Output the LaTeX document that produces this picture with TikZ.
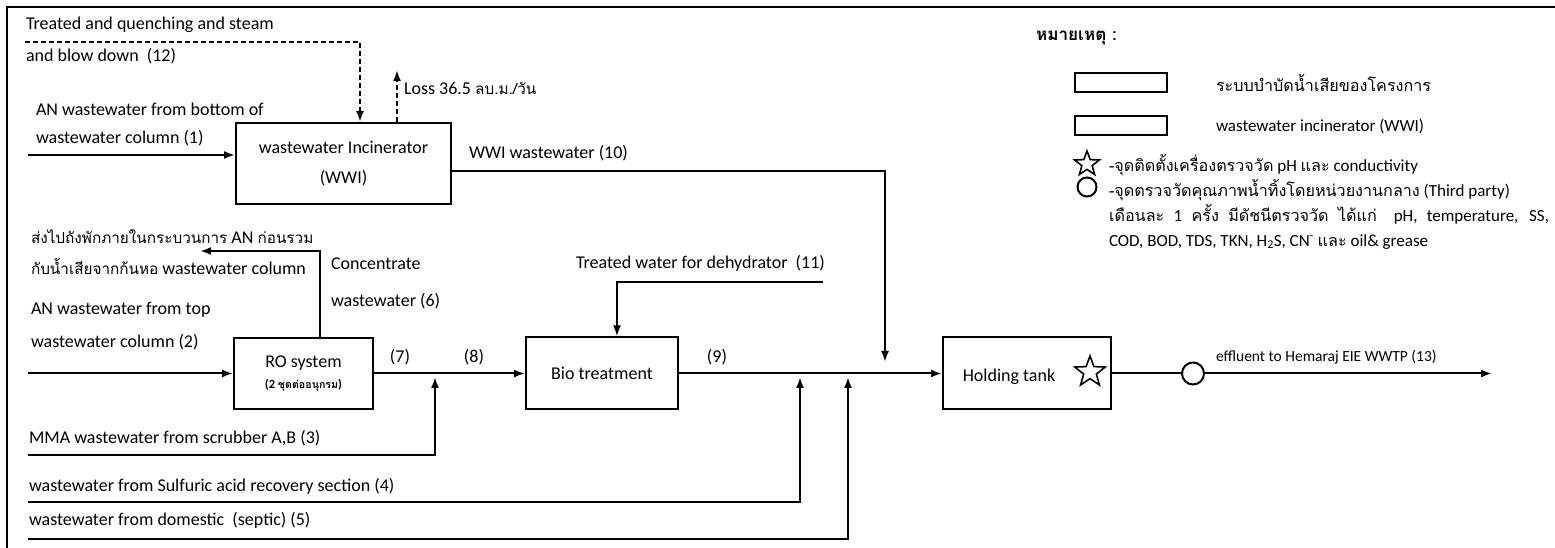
\documentclass[tikz,border=0pt]{standalone}
\usepackage{fontspec}
\setmainfont{Carlito}
\newfontfamily\thaifont[Script=Thai,Scale=0.85]{Loma}
\newfontfamily\thaileg[Script=Thai,Scale=0.95]{Loma}
\newcommand*{\thtxt}[1]{{\thaifont #1}}
\newcommand*{\thleg}[1]{{\thaileg #1}}
\usetikzlibrary{positioning,arrows.meta,shapes.geometric}

\begin{document}
\begin{tikzpicture}[x=1pt, y=1pt, line width=2pt, >={Latex[length=11pt,width=8pt]},
    font=\fontsize{18}{30}\selectfont,
    unitbox/.style={draw, inner sep=0pt, align=center},
    lbl/.style={inner sep=0pt, anchor=west, align=left},
    legfont/.style={font=\fontsize{17}{25}\selectfont},
    dashflow/.style={->, dash pattern=on 5pt off 3pt},
    starmark/.style={star, star points=5, star point ratio=2.4, draw, inner sep=0pt, line width=1.6pt},
    ringmark/.style={circle, draw, inner sep=0pt}]
    \useasboundingbox (0,0) rectangle (1555,548);
    % frame of the sheet
    \draw (7,0) -- (7,541) -- (1555,541);

    % treatment units
    \node[unitbox, minimum width=215pt, minimum height=81pt] (wwi) at (343.5,384.5) {wastewater Incinerator\\(WWI)};
    \node[unitbox, minimum width=139pt, minimum height=71pt] (ro) at (303.5,174.5) {RO system\\[-9pt]{\fontsize{12.5}{14}\selectfont\bfseries(2 \thtxt{ชุดต่ออนุกรม})}};
    \node[unitbox, minimum width=152pt, minimum height=72pt] (bio) at (602,174.5) {Bio treatment};
    \node[unitbox, minimum width=168pt, minimum height=72pt] (hold) at (1027,174.5) {};
    \node (holdText) at (1009,171) {Holding tank};
    \node[starmark, minimum size=32pt] (phMeter) at (1090,176) {};
    \node[ringmark, minimum size=22pt] (sample) at (1193,174.5) {};

    % free ends of the streams
    \coordinate (in1) at (28,393);
    \coordinate (in2) at (28,174.5);
    \coordinate (in3) at (28,93);
    \coordinate (in4) at (28,46);
    \coordinate (in5) at (28,9);
    \coordinate (in11) at (823,266);
    \coordinate (in12) at (25,506);
    \coordinate (lossEnd) at (397,478);
    \coordinate (concEnd) at (200,297);
    \coordinate (outEnd) at (1492,174.5);
    \coordinate (j3) at (435,171);
    \coordinate (j4) at (800,171);
    \coordinate (j5) at (848,171);
    \coordinate (j10) at (885,186);

    % streams
    \draw[->] (in1) -- (in1 -| wwi.west);
    \draw[dashflow] (in12) -| ([xshift=16.5pt]wwi.north);
    \draw[dashflow] ([xshift=53.5pt]wwi.north) -- (lossEnd);
    \draw[->] ([yshift=-7.5pt]wwi.east) -| (j10);
    \draw[->] (in2) -- (ro.west);
    \draw[->] ([xshift=16.5pt]ro.north) |- (concEnd);
    \draw[->] (ro.east) -- (bio.west);
    \draw[->] (in3) -| (j3);
    \draw[->] (in4) -| (j4);
    \draw[->] (in5) -| (j5);
    \draw[->] (in11) -| ([xshift=15pt]bio.north);
    \draw[->] (bio.east) -- (hold.west);
    \draw (hold.east) -- (sample.west);
    \draw[->] (sample.east) -- (outEnd);

    % stream labels
    \node[lbl] (l12) at (25,507) {Treated and quenching and steam\\[2pt]and blow down~ (12)};
    \node[lbl] (lLoss) at (403,460) {Loss 36.5 \thtxt{ลบ.ม./วัน}};
    \node[lbl] (l1) at (35,423) {AN wastewater from bottom of\\[-2pt]wastewater column (1)};
    \node[lbl] (l10) at (468,395) {WWI wastewater (10)};
    \node[lbl] (lBack) at (30,295.5) {\thtxt{ส่งไปถังพักภายในกระบวนการ} AN \thtxt{ก่อนรวม}\\[1pt]\thtxt{กับน้ำเสียจากก้นหอ} wastewater column};
    \node[lbl] (l6) at (330,264.5) {Concentrate\\[7pt]wastewater (6)};
    \node[lbl] (l11) at (575,285) {Treated water for dehydrator~ (11)};
    \node[lbl] (l2) at (30,221.5) {AN wastewater from top\\[3pt]wastewater column (2)};
    \node (l7) at (400,191) {(7)};
    \node (l8) at (474,191) {(8)};
    \node (l9) at (717,191) {(9)};
    \node[lbl] (l3) at (28,110) {MMA wastewater from scrubber A,B (3)};
    \node[lbl] (l4) at (28,62) {wastewater from Sulfuric acid recovery section (4)};
    \node[lbl] (l5) at (28,28) {wastewater from domestic~ (septic) (5)};
    \node[lbl, font=\fontsize{15.5}{25}\selectfont] (l13) at (1215,191) {effluent to Hemaraj EIE WWTP (13)};

    % legend
    \node[lbl, font=\fontsize{18}{25}\selectfont] (legTitle) at (1035,510) {\thleg{\bfseries หมายเหตุ :}};
    \node[draw, minimum width=92pt, minimum height=19pt, inner sep=0pt, anchor=west] (legUnit) at (1074,465.5) {};
    \node[lbl, legfont] (legUnitText) at (1215,465.5) {\thleg{ระบบบำบัดน้ำเสียของโครงการ}};
    \node[draw, minimum width=92pt, minimum height=19pt, inner sep=0pt, anchor=west] (legWwi) at (1074,422) {};
    \node[lbl, legfont] (legWwiText) at (1215,422) {wastewater incinerator (WWI)};
    \node[starmark, minimum size=26pt] (legStar) at (1087,384) {};
    \node[lbl, legfont] (legStarText) at (1108,383) {\thleg{-จุดติดตั้งเครื่องตรวจวัด} pH \thleg{และ} conductivity};
    \node[ringmark, minimum size=19pt] (legRing) at (1087,361) {};
    \node[lbl, legfont] (legRingText) at (1108,334) {\thleg{-จุดตรวจวัดคุณภาพน้ำทิ้งโดยหน่วยงานกลาง} (Third party)\\
        \makebox[440pt][s]{\thleg{เดือนละ} 1 \thleg{ครั้ง} \thleg{มีดัชนีตรวจวัด} \thleg{ได้แก่}\quad pH, temperature, SS,}\\
        COD, BOD, TDS, TKN, H\textsubscript{2}S, CN\textsuperscript{-} \thleg{และ} oil\& grease};
\end{tikzpicture}
\end{document}
